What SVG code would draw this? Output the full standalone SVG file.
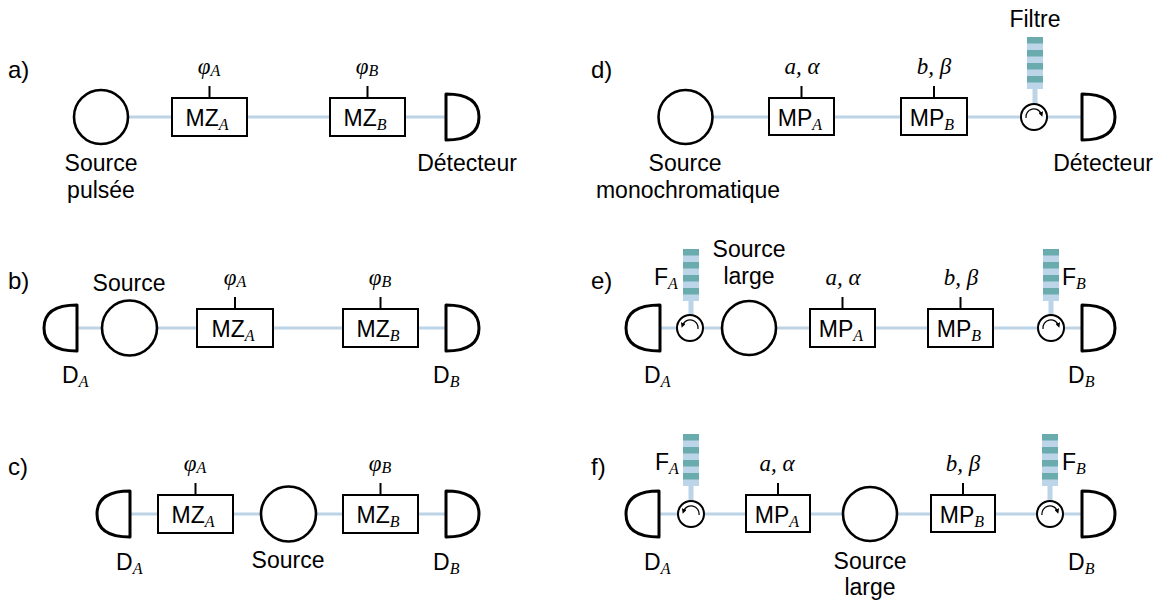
<svg xmlns="http://www.w3.org/2000/svg" xmlns:xlink="http://www.w3.org/1999/xlink" width="1167" height="601" viewBox="0 0 1167 601">
<style>
.sans{font-family:"Liberation Sans",Arial,sans-serif;font-size:23px;fill:#000}
.lab{font-family:"Liberation Sans",Arial,sans-serif;font-size:24px;fill:#000}
.par{font-family:"Liberation Serif","Times New Roman",serif;font-style:italic;font-size:23px;fill:#000}
.sub{font-family:"Liberation Serif","Times New Roman",serif;font-style:italic;font-size:16px}
.src{fill:#fff;stroke:#000;stroke-width:2.6}
.box{fill:#fff;stroke:#000;stroke-width:2}
.tick{stroke:#000;stroke-width:2}
.det{fill:#fff;stroke:#000;stroke-width:3;stroke-linejoin:round}
.circ{fill:#fff;stroke:#000;stroke-width:2}
.carc{fill:none;stroke:#000;stroke-width:1.2}
.fib{stroke:#bcd4e6;stroke-width:3;fill:none}
.stem{stroke:#bcd4e6;stroke-width:5}
</style>
<defs>
<marker id="ah" viewBox="0 0 6 6" refX="3" refY="3" markerWidth="5" markerHeight="5" markerUnits="userSpaceOnUse" orient="auto">
<path d="M0,0 L6,3 L0,6 z" fill="#000"/>
</marker>
<g id="filt">
<rect x="0" y="0" width="16" height="52" fill="#bdd5e8"/>
<rect x="0" y="0" width="16" height="6.5" fill="#6aacad"/>
<rect x="0" y="13" width="16" height="6.5" fill="#6aacad"/>
<rect x="0" y="26" width="16" height="6.5" fill="#6aacad"/>
<rect x="0" y="39" width="16" height="6.5" fill="#6aacad"/>
</g>
</defs>

<g id="connectors">
<line class="fib" x1="128" y1="117" x2="172" y2="117"/>
<line class="fib" x1="247" y1="117" x2="330" y2="117"/>
<line class="fib" x1="405" y1="117" x2="446" y2="117"/>
<line class="fib" x1="77" y1="328" x2="102" y2="328"/>
<line class="fib" x1="157" y1="328" x2="197" y2="328"/>
<line class="fib" x1="273" y1="328" x2="343" y2="328"/>
<line class="fib" x1="418" y1="328" x2="446" y2="328"/>
<line class="fib" x1="130" y1="514" x2="158" y2="514"/>
<line class="fib" x1="233" y1="514" x2="261" y2="514"/>
<line class="fib" x1="316" y1="514" x2="343" y2="514"/>
<line class="fib" x1="418" y1="514" x2="446" y2="514"/>
<line class="fib" x1="713" y1="117" x2="769" y2="117"/>
<line class="fib" x1="834" y1="117" x2="901" y2="117"/>
<line class="fib" x1="967" y1="117" x2="1021" y2="117"/>
<line class="fib" x1="1047" y1="117" x2="1082" y2="117"/>
<line class="stem" x1="1035" y1="89" x2="1035" y2="104"/>
<line class="fib" x1="660" y1="328" x2="677" y2="328"/>
<line class="fib" x1="703" y1="328" x2="722" y2="328"/>
<line class="fib" x1="776" y1="328" x2="810" y2="328"/>
<line class="fib" x1="875" y1="328" x2="928" y2="328"/>
<line class="fib" x1="993" y1="328" x2="1038" y2="328"/>
<line class="fib" x1="1064" y1="328" x2="1082" y2="328"/>
<line class="stem" x1="691" y1="301" x2="691" y2="315"/>
<line class="stem" x1="1051" y1="301" x2="1051" y2="315"/>
<line class="fib" x1="659" y1="514" x2="678" y2="514"/>
<line class="fib" x1="704" y1="514" x2="746" y2="514"/>
<line class="fib" x1="810" y1="514" x2="843" y2="514"/>
<line class="fib" x1="897" y1="514" x2="931" y2="514"/>
<line class="fib" x1="995" y1="514" x2="1037" y2="514"/>
<line class="fib" x1="1063" y1="514" x2="1082" y2="514"/>
<line class="stem" x1="691" y1="486" x2="691" y2="501"/>
<line class="stem" x1="1050" y1="486" x2="1050" y2="501"/>
</g>

<g id="panel-labels">
<text class="lab" x="8" y="78">a)</text>
<text class="lab" x="8" y="289">b)</text>
<text class="lab" x="8" y="475">c)</text>
<text class="lab" x="591" y="78">d)</text>
<text class="lab" x="591" y="289">e)</text>
<text class="lab" x="591" y="475">f)</text>
</g>

<g id="a-source">
<circle class="src" cx="101" cy="117" r="27"/>
<text class="sans" x="101" y="171" text-anchor="middle">Source</text>
<text class="sans" x="101" y="198" text-anchor="middle">pulsée</text>
</g>
<g id="a-mzA">
<rect class="box" x="172" y="98" width="75" height="38"/>
<line class="tick" x1="209.5" y1="86" x2="209.5" y2="98"/>
<text class="sans" x="207" y="126" text-anchor="middle">MZ<tspan class="sub" dy="4">A</tspan></text>
<text class="par" x="209" y="74" text-anchor="middle">φ<tspan class="sub" dy="2">A</tspan></text>
</g>
<g id="a-mzB">
<rect class="box" x="330" y="98" width="75" height="38"/>
<line class="tick" x1="367.5" y1="86" x2="367.5" y2="98"/>
<text class="sans" x="365" y="126" text-anchor="middle">MZ<tspan class="sub" dy="4">B</tspan></text>
<text class="par" x="367" y="74" text-anchor="middle">φ<tspan class="sub" dy="2">B</tspan></text>
</g>
<g id="a-det">
<path class="det" d="M446,94 L446,140 Q479,140 479,117 Q479,94 446,94 Z"/>
<text class="sans" x="467" y="171" text-anchor="middle">Détecteur</text>
</g>

<g id="b-detA">
<path class="det" d="M77,305 L77,351 Q44,351 44,328 Q44,305 77,305 Z"/>
<text class="sans" x="62" y="383">D<tspan class="sub" dy="4">A</tspan></text>
</g>
<g id="b-source">
<circle class="src" cx="129.5" cy="328" r="27.5"/>
<text class="sans" x="129" y="291" text-anchor="middle">Source</text>
</g>
<g id="b-mzA">
<rect class="box" x="197" y="309" width="76" height="38"/>
<line class="tick" x1="235" y1="297" x2="235" y2="309"/>
<text class="sans" x="233" y="337" text-anchor="middle">MZ<tspan class="sub" dy="4">A</tspan></text>
<text class="par" x="235" y="285" text-anchor="middle">φ<tspan class="sub" dy="2">A</tspan></text>
</g>
<g id="b-mzB">
<rect class="box" x="343" y="309" width="75" height="38"/>
<line class="tick" x1="380.5" y1="297" x2="380.5" y2="309"/>
<text class="sans" x="378" y="337" text-anchor="middle">MZ<tspan class="sub" dy="4">B</tspan></text>
<text class="par" x="380" y="285" text-anchor="middle">φ<tspan class="sub" dy="2">B</tspan></text>
</g>
<g id="b-detB">
<path class="det" d="M446,305 L446,351 Q479,351 479,328 Q479,305 446,305 Z"/>
<text class="sans" x="433" y="383">D<tspan class="sub" dy="4">B</tspan></text>
</g>

<g id="c-detA">
<path class="det" d="M130,491 L130,537 Q97,537 97,514 Q97,491 130,491 Z"/>
<text class="sans" x="116" y="570">D<tspan class="sub" dy="4">A</tspan></text>
</g>
<g id="c-mzA">
<rect class="box" x="158" y="495" width="75" height="38"/>
<line class="tick" x1="195.5" y1="483" x2="195.5" y2="495"/>
<text class="sans" x="193" y="523" text-anchor="middle">MZ<tspan class="sub" dy="4">A</tspan></text>
<text class="par" x="195" y="471" text-anchor="middle">φ<tspan class="sub" dy="2">A</tspan></text>
</g>
<g id="c-source">
<circle class="src" cx="288.5" cy="514" r="27.5"/>
<text class="sans" x="288" y="568" text-anchor="middle">Source</text>
</g>
<g id="c-mzB">
<rect class="box" x="343" y="495" width="75" height="38"/>
<line class="tick" x1="380.5" y1="483" x2="380.5" y2="495"/>
<text class="sans" x="378" y="523" text-anchor="middle">MZ<tspan class="sub" dy="4">B</tspan></text>
<text class="par" x="380" y="471" text-anchor="middle">φ<tspan class="sub" dy="2">B</tspan></text>
</g>
<g id="c-detB">
<path class="det" d="M446,491 L446,537 Q479,537 479,514 Q479,491 446,491 Z"/>
<text class="sans" x="433" y="570">D<tspan class="sub" dy="4">B</tspan></text>
</g>

<g id="d-source">
<circle class="src" cx="685.5" cy="117" r="27"/>
<text class="sans" x="685" y="171" text-anchor="middle">Source</text>
<text class="sans" x="688" y="198" text-anchor="middle">monochromatique</text>
</g>
<g id="d-mpA">
<rect class="box" x="769" y="98" width="65" height="37"/>
<line class="tick" x1="801.5" y1="86" x2="801.5" y2="98"/>
<text class="sans" x="800" y="126" text-anchor="middle">MP<tspan class="sub" dy="4">A</tspan></text>
<text class="par" x="802" y="74" text-anchor="middle">a, α</text>
</g>
<g id="d-mpB">
<rect class="box" x="901" y="98" width="66" height="37"/>
<line class="tick" x1="934" y1="86" x2="934" y2="98"/>
<text class="sans" x="932" y="126" text-anchor="middle">MP<tspan class="sub" dy="4">B</tspan></text>
<text class="par" x="934" y="74" text-anchor="middle">b, β</text>
</g>
<g id="d-filter">
<use xlink:href="#filt" x="1027" y="37"/>
<text class="sans" x="1035" y="27" text-anchor="middle">Filtre</text>
</g>
<g id="d-circ">
<circle class="circ" cx="1034" cy="117" r="13"/>
<path class="carc" d="M1026,118 A8,8 0 0 1 1041.5,114.3" marker-end="url(#ah)"/>
</g>
<g id="d-det">
<path class="det" d="M1082,94 L1082,140 Q1115,140 1115,117 Q1115,94 1082,94 Z"/>
<text class="sans" x="1103" y="171" text-anchor="middle">Détecteur</text>
</g>

<g id="e-detA">
<path class="det" d="M660,305 L660,351 Q626,351 626,328 Q626,305 660,305 Z"/>
<text class="sans" x="644" y="383">D<tspan class="sub" dy="4">A</tspan></text>
</g>
<g id="e-filterA">
<use xlink:href="#filt" x="683" y="249"/>
<text class="sans" x="654" y="285">F<tspan class="sub" dy="4">A</tspan></text>
</g>
<g id="e-circA">
<circle class="circ" cx="690" cy="328" r="13"/>
<path class="carc" d="M698,329 A8,8 0 0 0 682.5,325.3" marker-end="url(#ah)"/>
</g>
<g id="e-source">
<circle class="src" cx="749" cy="328" r="27"/>
<text class="sans" x="749" y="257" text-anchor="middle">Source</text>
<text class="sans" x="749" y="284" text-anchor="middle">large</text>
</g>
<g id="e-mpA">
<rect class="box" x="810" y="309" width="65" height="38"/>
<line class="tick" x1="842.5" y1="297" x2="842.5" y2="309"/>
<text class="sans" x="841" y="337" text-anchor="middle">MP<tspan class="sub" dy="4">A</tspan></text>
<text class="par" x="843" y="285" text-anchor="middle">a, α</text>
</g>
<g id="e-mpB">
<rect class="box" x="928" y="309" width="65" height="38"/>
<line class="tick" x1="960.5" y1="297" x2="960.5" y2="309"/>
<text class="sans" x="959" y="337" text-anchor="middle">MP<tspan class="sub" dy="4">B</tspan></text>
<text class="par" x="961" y="285" text-anchor="middle">b, β</text>
</g>
<g id="e-filterB">
<use xlink:href="#filt" x="1043" y="249"/>
<text class="sans" x="1062" y="285">F<tspan class="sub" dy="4">B</tspan></text>
</g>
<g id="e-circB">
<circle class="circ" cx="1051" cy="328" r="13"/>
<path class="carc" d="M1043,329 A8,8 0 0 1 1058.5,325.3" marker-end="url(#ah)"/>
</g>
<g id="e-detB">
<path class="det" d="M1082,305 L1082,351 Q1115,351 1115,328 Q1115,305 1082,305 Z"/>
<text class="sans" x="1068" y="383">D<tspan class="sub" dy="4">B</tspan></text>
</g>

<g id="f-detA">
<path class="det" d="M659,491 L659,537 Q626,537 626,514 Q626,491 659,491 Z"/>
<text class="sans" x="644" y="570">D<tspan class="sub" dy="4">A</tspan></text>
</g>
<g id="f-filterA">
<use xlink:href="#filt" x="683" y="434"/>
<text class="sans" x="655" y="470">F<tspan class="sub" dy="4">A</tspan></text>
</g>
<g id="f-circA">
<circle class="circ" cx="691" cy="514" r="13"/>
<path class="carc" d="M699,515 A8,8 0 0 0 683.5,511.3" marker-end="url(#ah)"/>
</g>
<g id="f-mpA">
<rect class="box" x="746" y="495" width="64" height="37"/>
<line class="tick" x1="778" y1="483" x2="778" y2="495"/>
<text class="sans" x="777" y="523" text-anchor="middle">MP<tspan class="sub" dy="4">A</tspan></text>
<text class="par" x="777" y="471" text-anchor="middle">a, α</text>
</g>
<g id="f-source">
<circle class="src" cx="870" cy="514" r="27"/>
<text class="sans" x="870" y="569" text-anchor="middle">Source</text>
<text class="sans" x="870" y="595" text-anchor="middle">large</text>
</g>
<g id="f-mpB">
<rect class="box" x="931" y="495" width="64" height="37"/>
<line class="tick" x1="963" y1="483" x2="963" y2="495"/>
<text class="sans" x="962" y="523" text-anchor="middle">MP<tspan class="sub" dy="4">B</tspan></text>
<text class="par" x="963" y="471" text-anchor="middle">b, β</text>
</g>
<g id="f-filterB">
<use xlink:href="#filt" x="1042" y="434"/>
<text class="sans" x="1062" y="470">F<tspan class="sub" dy="4">B</tspan></text>
</g>
<g id="f-circB">
<circle class="circ" cx="1050" cy="514" r="13"/>
<path class="carc" d="M1042,515 A8,8 0 0 1 1057.5,511.3" marker-end="url(#ah)"/>
</g>
<g id="f-detB">
<path class="det" d="M1082,491 L1082,537 Q1115,537 1115,514 Q1115,491 1082,491 Z"/>
<text class="sans" x="1068" y="570">D<tspan class="sub" dy="4">B</tspan></text>
</g>
</svg>
